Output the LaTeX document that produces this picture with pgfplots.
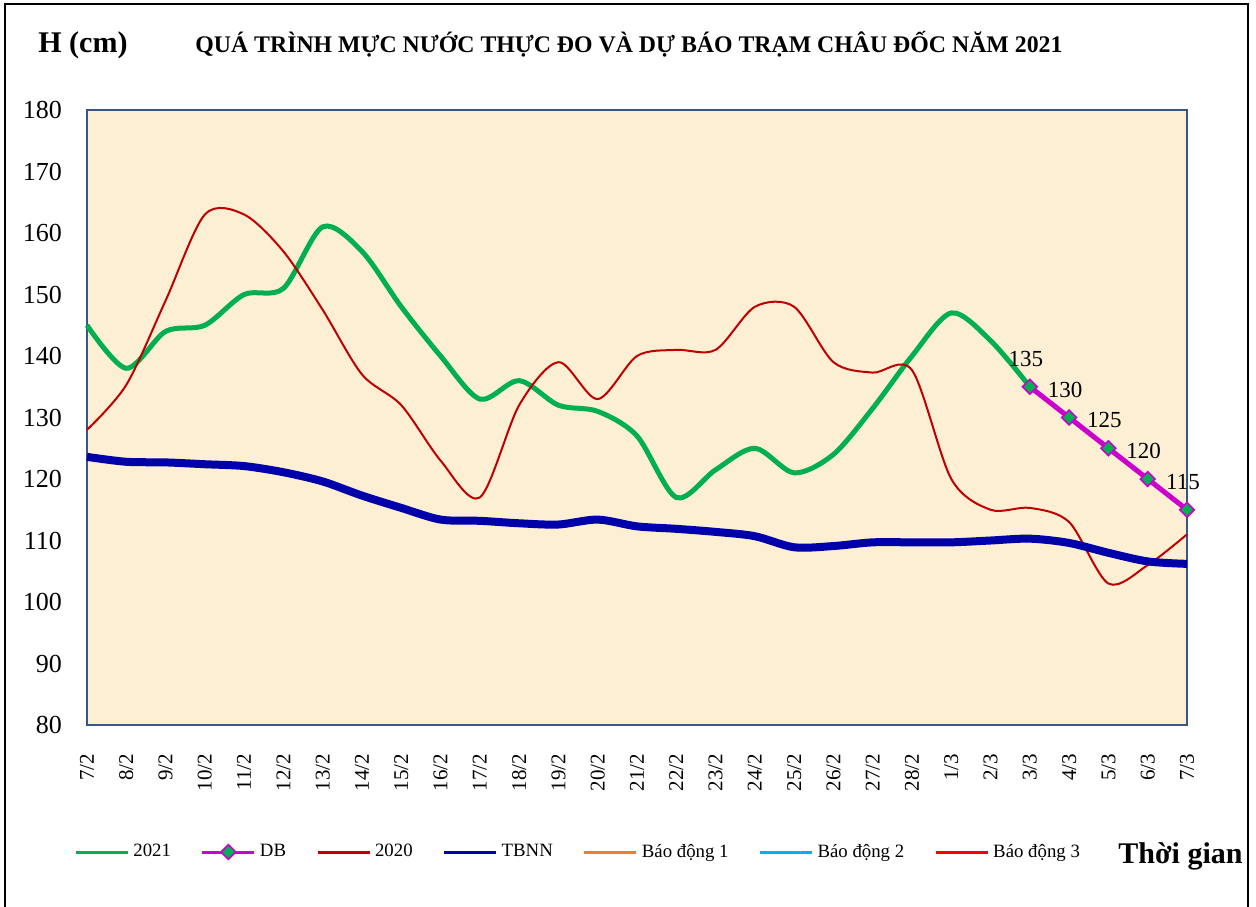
\documentclass[border=0pt]{standalone}
\usepackage{pgfplots}
\pgfplotsset{compat=1.18}
\usepackage{fontspec}
\setmainfont{Liberation Serif}
\definecolor{bg}{RGB}{253,239,211}
\definecolor{g21}{RGB}{0,176,80}
\definecolor{db}{RGB}{204,0,204}
\definecolor{r20}{RGB}{192,0,0}
\definecolor{tbnn}{RGB}{0,0,170}
\definecolor{bd1}{RGB}{237,125,49}
\definecolor{bd2}{RGB}{0,176,240}
\definecolor{bd3}{RGB}{255,0,0}
\definecolor{axc}{RGB}{56,87,135}

\pgfplotstableread{
x y
0 145
1 138
2 144
3 145
4 150
5 151
6 161
7 157
8 148
9 140
10 133
11 136
12 132
13 131
14 127
15 117
16 121.5
17 125
18 121
19 124
20 131.5
21 140
22 147
23 142.5
24 135
}\tAA

\pgfplotstableread{
x y
24 135
25 130
26 125
27 120
28 115
}\tDB

\pgfplotstableread{
x y
0 128
1 135.3
2 149
3 163
4 163
5 157
6 147.5
7 137
8 132
9 123
10 117
11 132
12 139
13 133
14 140
15 141
16 141
17 148
18 148
19 139
20 137.3
21 137.7
22 120
23 115
24 115.3
25 113
26 103
27 106
28 111
}\tBB

\pgfplotstableread{
x y
0 123.6
1 122.8
2 122.7
3 122.4
4 122.1
5 121.1
6 119.6
7 117.3
8 115.3
9 113.4
10 113.2
11 112.8
12 112.6
13 113.4
14 112.3
15 111.9
16 111.4
17 110.7
18 108.9
19 109.1
20 109.7
21 109.7
22 109.7
23 110.0
24 110.3
25 109.6
26 108.0
27 106.6
28 106.2
}\tCC

\begin{document}
\begin{tikzpicture}[x=0.5pt,y=0.5pt]
\path[use as bounding box] (0,0) rectangle (1256,906);
\draw[black, line width=1.2pt] (5,-20) -- (5,902) -- (1248,902) -- (1248,-20);
\begin{axis}[
  at={(43.5pt,90.5pt)}, anchor=south west,
  scale only axis, width=550pt, height=307.5pt,
  xmin=0, xmax=28, ymin=80, ymax=180,
  axis background/.style={fill=bg},
  axis line style={axc, line width=1pt},
  xtick={0,...,28},
  xticklabels={7/2,8/2,9/2,10/2,11/2,12/2,13/2,14/2,15/2,16/2,17/2,18/2,19/2,20/2,21/2,22/2,23/2,24/2,25/2,26/2,27/2,28/2,1/3,2/3,3/3,4/3,5/3,6/3,7/3},
  ytick={80,90,...,180},
  major tick length=0pt,
  /pgf/number format/assume math mode=true,
  yticklabel style={font=\fontsize{13}{13}\selectfont, anchor=east, xshift=-9pt},
  xticklabel style={font=\fontsize{10.5}{10.5}\selectfont, rotate=90, anchor=east, xshift=-11pt},
  clip=false,
  legend columns=-1,
  legend style={at={(-0.0173,-0.2065)}, anchor=west, draw=none, fill=none,
    font=\fontsize{9.4}{9.4}\selectfont,
    /tikz/every even column/.append style={column sep=13pt}},
  legend image code/.code={\draw[mark repeat=2,mark phase=2,#1,line width=1.5pt] plot coordinates {(0pt,0pt)(13pt,0pt)(26pt,0pt)};},
]
\addplot[g21, line width=2.5pt, smooth, no marks] table {\tAA};
\addlegendentry{2021}
\addplot[db, line width=2.5pt, mark=square*, mark size=2.6pt,
  mark options={rotate=45, fill=g21, draw=db, line width=0.8pt},
  nodes near coords, point meta=y,
  every node near coord/.append style={font=\fontsize{11.5}{11.5}\selectfont, text=black, anchor=center, yshift=14pt, xshift=-2pt}] table {\tDB};
\addlegendentry{DB}
\addplot[r20, line width=1pt, smooth, no marks] table {\tBB};
\addlegendentry{2020}
\addplot[tbnn, line width=4pt, smooth, no marks] table {\tCC};
\addlegendentry{TBNN}
\addlegendimage{bd1, line width=1.5pt}
\addlegendentry{Báo động 1}
\addlegendimage{bd2, line width=1.5pt}
\addlegendentry{Báo động 2}
\addlegendimage{bd3, line width=1.5pt}
\addlegendentry{Báo động 3}
\end{axis}
\node[anchor=base west, inner sep=0pt, font=\fontsize{15}{15}\selectfont\bfseries] at (38,853) {H (cm)};
\node[anchor=base west, inner sep=0pt, font=\fontsize{11.9}{11.9}\selectfont\bfseries] at (195,853) {QUÁ TRÌNH MỰC NƯỚC THỰC ĐO VÀ DỰ BÁO TRẠM CHÂU ĐỐC NĂM 2021};
\node[anchor=base west, inner sep=0pt, font=\fontsize{15}{15}\selectfont\bfseries] at (1118,43) {Thời gian};
\end{tikzpicture}
\end{document}
